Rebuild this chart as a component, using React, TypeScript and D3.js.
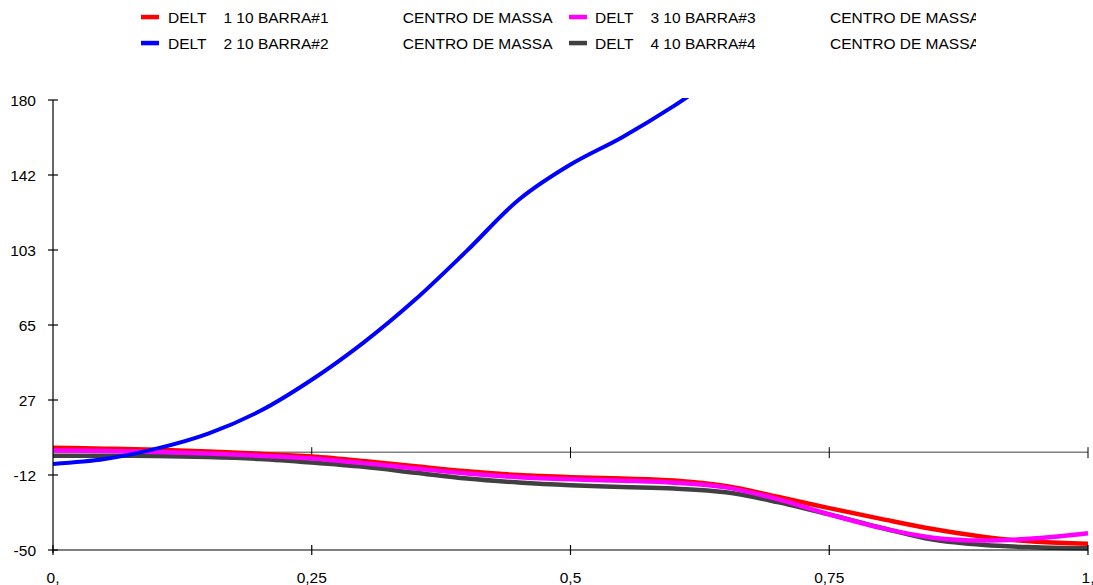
import React, { useRef, useEffect } from 'react';
import * as d3 from 'd3';

const X_VALUES = [0, 0.05, 0.1, 0.15, 0.2, 0.25, 0.3, 0.35, 0.4, 0.45, 0.5, 0.55, 0.6, 0.65, 0.7, 0.75, 0.8, 0.85, 0.9, 0.95, 1];

const BARRA1 = [2.2, 1.8, 1.2, 0.3, -0.8, -2.2, -4.5, -7.2, -9.8, -11.7, -12.8, -13.5, -14.5, -17.3, -22.8, -28.6, -34.1, -39.3, -43.3, -45.8, -46.8];
const BARRA2 = [-6, -3.5, 1.8, 9.5, 21, 37, 56, 78, 103, 129, 147, 161, 177, 195, 212, 228, 245, 262, 280, 298, 315];
const BARRA3 = [0.8, 0.6, 0.1, -0.7, -1.8, -3.2, -5.6, -8.3, -10.9, -12.8, -13.9, -14.6, -15.6, -18, -24, -31.8, -38.7, -43.7, -45.2, -44, -41.4];
const BARRA4 = [-1.8, -1.8, -2, -2.5, -3.5, -5.3, -7.5, -10.5, -13.5, -15.5, -16.9, -17.8, -18.6, -20.5, -25.5, -31.8, -38.6, -44.7, -47.5, -48.6, -49.1];

const Y_TICK_LABELS = ['-50', '-12', '27', '65', '103', '142', '180'];
const X_TICKS = [0, 0.25, 0.5, 0.75, 1];
const X_TICK_LABELS = ['0,', '0,25', '0,5', '0,75', '1,'];

const SERIES = [
  { name: 'DELT    1 10 BARRA#1', values: BARRA1, color: '#ff0000' },
  { name: 'DELT    2 10 BARRA#2', values: BARRA2, color: '#0000ff' },
  { name: 'DELT    3 10 BARRA#3', values: BARRA3, color: '#ff00ff' },
  { name: 'DELT    4 10 BARRA#4', values: BARRA4, color: '#404040' },
];

const FONT = 'Liberation Sans, Arial, sans-serif';

const App: React.FC = () => {
  const svgRef = useRef<SVGSVGElement>(null);

  useEffect(() => {
    if (!svgRef.current) return;
    const W = 1093;
    const H = 585;
    const left = 53;
    const right = 1088;
    const top = 100;
    const bottom = 550;

    const svg = d3.select(svgRef.current);
    svg.selectAll('*').remove();
    svg.attr('width', W).attr('height', H).attr('viewBox', `0 0 ${W} ${H}`);

    const x = d3.scaleLinear().domain([0, 1]).range([left, right]);
    const y = d3.scaleLinear().domain([-50, 180]).range([bottom, top]);

    const defs = svg.append('defs');
    defs.append('clipPath').attr('id', 'plotclip')
      .append('rect').attr('x', left).attr('y', top - 2).attr('width', right - left + 3).attr('height', bottom - top + 4);
    defs.append('clipPath').attr('id', 'legclip')
      .append('rect').attr('x', 0).attr('y', 0).attr('width', 976).attr('height', 70);

    // legend
    const leg = svg.append('g').attr('clip-path', 'url(#legclip)');
    const legPos = [
      { sx: 141, tx: 168, cx: 402.7, y: 17 },
      { sx: 141, tx: 168, cx: 402.7, y: 43 },
      { sx: 569, tx: 595, cx: 830, y: 17 },
      { sx: 569, tx: 595, cx: 830, y: 43 },
    ];
    SERIES.forEach((s, i) => {
      const p = legPos[i];
      leg.append('rect').attr('x', p.sx).attr('y', p.y - 2.2).attr('width', 18).attr('height', 4.5).attr('fill', s.color);
      leg.append('text').attr('x', p.tx).attr('y', p.y + 6).attr('font-size', '15.5px').attr('font-family', FONT)
        .attr('fill', '#000').attr('xml:space', 'preserve').style('white-space', 'pre').text(s.name);
      leg.append('text').attr('x', p.cx).attr('y', p.y + 6).attr('font-size', '15.5px').attr('font-family', FONT)
        .attr('fill', '#000').text('CENTRO DE MASSA');
    });

    // zero line
    svg.append('line').attr('x1', left).attr('x2', right).attr('y1', y(0)).attr('y2', y(0))
      .attr('stroke', '#808080').attr('stroke-width', 1.5);
    svg.append('g').selectAll('line').data(X_TICKS.slice(1)).join('line')
      .attr('x1', d => x(d)).attr('x2', d => x(d)).attr('y1', y(0) - 5).attr('y2', y(0) + 6)
      .attr('stroke', '#000').attr('stroke-width', 1);

    // series
    const line = d3.line<number>()
      .x((_, i) => x(X_VALUES[i]))
      .y(d => y(d))
      .curve(d3.curveCatmullRom.alpha(0.5));
    const plot = svg.append('g').attr('clip-path', 'url(#plotclip)');
    const order = [3, 0, 2, 1];
    order.forEach(i => {
      const s = SERIES[i];
      plot.append('path').attr('d', line(s.values)!).attr('fill', 'none')
        .attr('stroke', s.color).attr('stroke-width', i === 1 ? 4 : 4.5)
        .attr('stroke-linejoin', 'round');
    });

    // y axis
    const ySteps = Y_TICK_LABELS.map((_, i) => -50 + (i * 230) / (Y_TICK_LABELS.length - 1));
    svg.append('line').attr('x1', left).attr('x2', left).attr('y1', top).attr('y2', bottom + 3)
      .attr('stroke', '#000').attr('stroke-width', 1.2);
    svg.append('g').selectAll('line').data(ySteps).join('line')
      .attr('x1', left - 5).attr('x2', left + 5).attr('y1', d => y(d)).attr('y2', d => y(d))
      .attr('stroke', '#000').attr('stroke-width', 1.2);
    svg.append('g').selectAll('text').data(ySteps).join('text')
      .attr('x', 36).attr('y', d => y(d)).attr('dy', '0.36em').attr('text-anchor', 'end')
      .attr('font-size', '15.5px').attr('font-family', FONT).attr('fill', '#000')
      .text((_, i) => Y_TICK_LABELS[i]);

    // x axis
    svg.append('line').attr('x1', left).attr('x2', right).attr('y1', bottom).attr('y2', bottom)
      .attr('stroke', '#000').attr('stroke-width', 1.2);
    svg.append('g').selectAll('line').data(X_TICKS).join('line')
      .attr('x1', d => x(d)).attr('x2', d => x(d)).attr('y1', bottom - 5).attr('y2', bottom + 5)
      .attr('stroke', '#000').attr('stroke-width', 1.2);
    svg.append('g').selectAll('text').data(X_TICKS).join('text')
      .attr('x', d => x(d)).attr('y', 583).attr('text-anchor', 'middle')
      .attr('font-size', '15.5px').attr('font-family', FONT).attr('fill', '#000')
      .text((_, i) => X_TICK_LABELS[i]);
  }, []);

  return (
    <div style={{ position: 'fixed', left: 0, top: 0, width: 1093, height: 585, background: '#fff' }}>
      <svg ref={svgRef} style={{ display: 'block' }} />
    </div>
  );
};

export default App;
